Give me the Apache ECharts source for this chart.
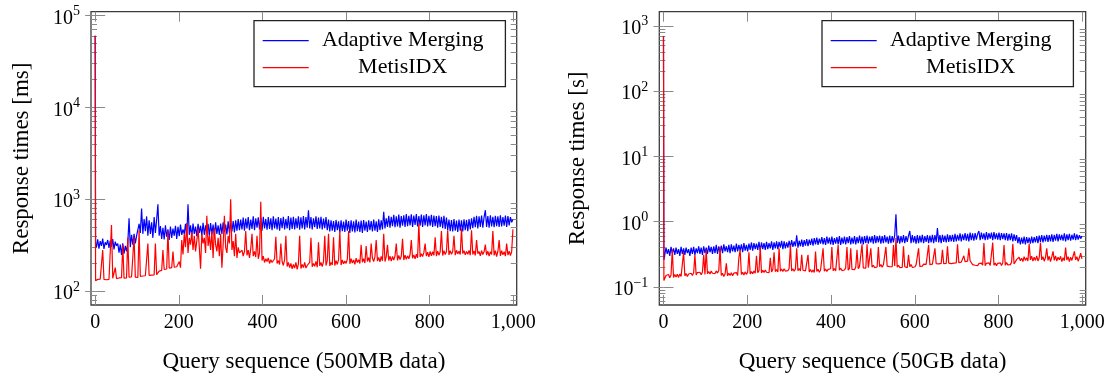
<!DOCTYPE html>
<html><head><meta charset="utf-8">
<script src="https://cdn.jsdelivr.net/npm/echarts@6/dist/echarts.min.js"></script>
<style>html,body{margin:0;padding:0;background:#fff}#c{width:1110px;height:378px}</style>
</head><body><div id="c"></div>
<script>
// Query sequence numbers (x positions): queries 0, 1, 3, 6, ..., 999
const queryIds = [0, 1];
for (let q = 3; q <= 999; q += 3) queryIds.push(q);

const seriesNames = ['Adaptive Merging', 'MetisIDX'];
const xTickValues = [0, 200, 400, 600, 800, 1000];

// Left panel: 500MB data, response times in ms
const am500 = [60000, 330,
  300, 365, 290, 350, 310, 372, 288, 340, 318, 360,
  295, 355, 305, 368, 285, 345, 312, 330, 262, 320,
  248, 332, 255, 310, 270, 335, 620, 300, 410, 320,
  420, 330, 400, 390, 540, 430, 790, 420, 610, 450,
  650, 400, 590, 420, 560, 380, 640, 430, 600, 880,
  400, 510, 370, 490, 365, 520, 390, 470, 360, 505,
  380, 480, 400, 515, 370, 500, 395, 530, 410, 470,
  420, 540, 395, 880, 410, 520, 390, 545, 420, 505,
  395, 540, 430, 515, 400, 555, 410, 520, 425, 540,
  400, 550, 415, 530, 395, 560, 420, 520, 410, 545,
  420, 560, 440, 530, 415, 575, 430, 550, 445, 580,
  435, 590, 455, 610, 460, 600, 470, 630, 455, 615,
  480, 640, 460, 600, 475, 650, 460, 620, 490, 635,
  470, 625, 455, 645, 480, 610, 465, 640, 475, 620,
  460, 650, 480, 615, 470, 640, 455, 625, 485, 645,
  470, 610, 480, 655, 460, 630, 475, 645, 470, 620,
  485, 650, 465, 635, 480, 655, 470, 640, 490, 760,
  480, 640, 470, 620, 495, 650, 475, 630, 480, 645,
  470, 615, 485, 640, 460, 600, 445, 590, 455, 580,
  440, 595, 460, 575, 435, 590, 450, 570, 440, 600,
  455, 580, 430, 590, 445, 575, 435, 600, 450, 570,
  440, 585, 430, 595, 455, 570, 440, 590, 460, 580,
  445, 600, 455, 575, 440, 605, 460, 590, 470, 730,
  480, 620, 500, 660, 490, 645, 510, 675, 495, 650,
  505, 680, 490, 655, 515, 670, 500, 690, 510, 660,
  520, 685, 500, 665, 525, 690, 505, 655, 515, 680,
  500, 670, 520, 690, 505, 660, 515, 675, 500, 665,
  510, 655, 490, 665, 500, 645, 485, 660, 475, 630,
  460, 600, 450, 595, 445, 610, 455, 585, 440, 600,
  455, 590, 445, 605, 460, 595, 450, 610, 470, 620,
  485, 645, 495, 660, 480, 650, 500, 665, 490, 640,
  760, 500, 655, 490, 670, 505, 645, 495, 660, 510,
  650, 500, 670, 505, 640, 515, 665, 500, 655, 520,
  640, 560, 600];
const metis500 = [60000, 130,
  131, 134, 132, 135, 133, 280, 134, 136, 133, 137,
  134, 136, 525, 138, 135, 180, 137, 135, 139, 136,
  140, 318, 138, 141, 139, 380, 142, 140, 143, 141,
  390, 142, 144, 141, 460, 145, 143, 146, 144, 147,
  145, 330, 148, 146, 149, 147, 150, 330, 151, 149,
  165, 170, 168, 280, 172, 176, 174, 450, 178, 175,
  180, 270, 182, 178, 184, 181, 210, 180, 360, 250,
  420, 300, 550, 260, 380, 320, 440, 280, 400, 270,
  350, 480, 300, 175, 420, 330, 380, 260, 660, 310,
  400, 280, 450, 230, 490, 320, 270, 380, 240, 420,
  180, 320, 660, 300, 260, 400, 330, 1000, 280, 350,
  240, 420, 230, 300, 260, 250, 280, 240, 270, 450,
  245, 280, 230, 290, 420, 240, 270, 235, 400, 225,
  260, 940, 215, 240, 205, 225, 210, 230, 200, 220,
  205, 195, 225, 390, 200, 215, 195, 330, 210, 190,
  220, 400, 185, 205, 180, 200, 175, 195, 178, 205,
  172, 198, 400, 176, 195, 180, 205, 178, 190, 182,
  206, 380, 184, 200, 186, 210, 182, 340, 188, 205,
  185, 210, 400, 190, 215, 420, 188, 205, 192, 385,
  190, 215, 195, 220, 450, 192, 218, 198, 212, 200,
  222, 450, 198, 225, 202, 218, 196, 228, 205, 220,
  200, 320, 206, 225, 202, 310, 210, 232, 205, 330,
  228, 210, 236, 360, 212, 232, 208, 238, 214, 420,
  210, 236, 320, 215, 240, 212, 238, 218, 242, 330,
  216, 244, 220, 240, 370, 218, 246, 222, 242, 225,
  250, 360, 228, 248, 224, 252, 230, 550, 235, 255,
  238, 262, 330, 240, 265, 236, 270, 242, 268, 245,
  385, 240, 272, 246, 268, 450, 244, 275, 250, 270,
  460, 248, 276, 252, 270, 400, 246, 278, 254, 272,
  250, 480, 256, 275, 248, 270, 252, 278, 246, 460,
  250, 274, 245, 360, 256, 270, 242, 276, 250, 268,
  320, 246, 272, 240, 268, 250, 450, 245, 275, 238,
  270, 360, 242, 276, 248, 268, 240, 330, 246, 272,
  244, 270, 470];

// Right panel: 50GB data, response times in s
const am50 = [700, 0.26,
  0.31, 0.40, 0.32, 0.38, 0.30, 0.41, 0.33, 0.39, 0.31, 0.40,
  0.32, 0.38, 0.30, 0.41, 0.32, 0.39, 0.31, 0.40, 0.33, 0.38,
  0.30, 0.40, 0.32, 0.41, 0.31, 0.39, 0.33, 0.42, 0.32, 0.40,
  0.31, 0.42, 0.33, 0.40, 0.32, 0.43, 0.34, 0.41, 0.32, 0.42,
  0.33, 0.44, 0.32, 0.42, 0.34, 0.43, 0.33, 0.45, 0.35, 0.42,
  0.34, 0.44, 0.33, 0.45, 0.35, 0.43, 0.34, 0.46, 0.35, 0.44,
  0.36, 0.45, 0.34, 0.47, 0.36, 0.44, 0.35, 0.46, 0.37, 0.48,
  0.36, 0.47, 0.38, 0.46, 0.37, 0.49, 0.36, 0.48, 0.38, 0.47,
  0.37, 0.49, 0.38, 0.47, 0.39, 0.50, 0.37, 0.48, 0.39, 0.50,
  0.38, 0.49, 0.40, 0.51, 0.38, 0.50, 0.39, 0.48, 0.40, 0.51,
  0.40, 0.52, 0.41, 0.50, 0.42, 0.62, 0.40, 0.51, 0.42, 0.53,
  0.41, 0.52, 0.43, 0.54, 0.42, 0.53, 0.44, 0.55, 0.43, 0.56,
  0.45, 0.57, 0.44, 0.55, 0.46, 0.58, 0.45, 0.56, 0.44, 0.59,
  0.46, 0.57, 0.45, 0.59, 0.44, 0.56, 0.46, 0.58, 0.45, 0.60,
  0.44, 0.57, 0.46, 0.59, 0.45, 0.58, 0.47, 0.60, 0.45, 0.57,
  0.46, 0.60, 0.45, 0.58, 0.47, 0.61, 0.46, 0.59, 0.45, 0.60,
  0.47, 0.61, 0.46, 0.59, 0.48, 0.60, 0.46, 0.62, 0.47, 0.60,
  0.48, 0.61, 0.46, 0.60, 0.47, 0.62, 0.48, 0.59, 0.46, 0.61,
  0.47, 0.60, 0.48, 0.62, 1.30, 0.47, 0.61, 0.46, 0.60, 0.48,
  0.62, 0.47, 0.60, 0.49, 0.61, 0.72, 0.47, 0.62, 0.48, 0.60,
  0.46, 0.62, 0.47, 0.61, 0.48, 0.63, 0.47, 0.60, 0.49, 0.62,
  0.47, 0.61, 0.48, 0.63, 0.47, 0.62, 0.49, 0.80, 0.48, 0.62,
  0.47, 0.63, 0.49, 0.61, 0.48, 0.64, 0.49, 0.62, 0.50, 0.63,
  0.49, 0.65, 0.50, 0.63, 0.51, 0.66, 0.50, 0.64, 0.52, 0.67,
  0.51, 0.65, 0.50, 0.68, 0.52, 0.66, 0.51, 0.67, 0.53, 0.65,
  0.72, 0.52, 0.68, 0.54, 0.66, 0.52, 0.69, 0.53, 0.67, 0.55,
  0.68, 0.52, 0.69, 0.54, 0.66, 0.53, 0.68, 0.52, 0.67, 0.54,
  0.66, 0.52, 0.67, 0.51, 0.65, 0.52, 0.66, 0.50, 0.64, 0.51,
  0.62, 0.47, 0.58, 0.45, 0.57, 0.46, 0.59, 0.45, 0.58, 0.47,
  0.57, 0.46, 0.59, 0.47, 0.58, 0.48, 0.60, 0.47, 0.61, 0.49,
  0.62, 0.48, 0.61, 0.50, 0.63, 0.49, 0.62, 0.50, 0.64, 0.49,
  0.63, 0.51, 0.65, 0.50, 0.64, 0.52, 0.63, 0.51, 0.66, 0.50,
  0.64, 0.52, 0.65, 0.51, 0.63, 0.53, 0.66, 0.52, 0.64, 0.53,
  0.62, 0.55, 0.60];
const metis50 = [700, 0.125,
  0.135, 0.15, 0.14, 0.155, 0.138, 0.152, 0.37, 0.14, 0.155, 0.142,
  0.156, 0.14, 0.158, 0.145, 0.155, 0.34, 0.148, 0.16, 0.145, 0.158,
  0.148, 0.162, 0.15, 0.165, 0.31, 0.152, 0.166, 0.155, 0.168, 0.154,
  0.17, 0.31, 0.155, 0.37, 0.16, 0.172, 0.158, 0.175, 0.162, 0.17,
  0.16, 0.176, 0.163, 0.178, 0.41, 0.15, 0.162, 0.145, 0.158, 0.23,
  0.148, 0.162, 0.15, 0.165, 0.148, 0.163, 0.152, 0.166, 0.15, 0.28,
  0.37, 0.155, 0.168, 0.152, 0.17, 0.156, 0.168, 0.34, 0.158, 0.172,
  0.16, 0.175, 0.162, 0.30, 0.165, 0.178, 0.41, 0.163, 0.18, 0.166,
  0.182, 0.168, 0.178, 0.165, 0.28, 0.17, 0.184, 0.34, 0.172, 0.185,
  0.17, 0.39, 0.174, 0.188, 0.172, 0.19, 0.175, 0.186, 0.178, 0.192,
  0.44, 0.176, 0.19, 0.174, 0.188, 0.39, 0.178, 0.192, 0.175, 0.31,
  0.18, 0.192, 0.176, 0.186, 0.31, 0.17, 0.185, 0.168, 0.182, 0.166,
  0.35, 0.172, 0.186, 0.168, 0.182, 0.17, 0.39, 0.174, 0.188, 0.172,
  0.186, 0.175, 0.19, 0.41, 0.178, 0.192, 0.176, 0.188, 0.44, 0.18,
  0.194, 0.178, 0.19, 0.182, 0.196, 0.41, 0.18, 0.194, 0.39, 0.186,
  0.198, 0.184, 0.2, 0.37, 0.19, 0.205, 0.192, 0.45, 0.195, 0.208,
  0.194, 0.45, 0.198, 0.21, 0.39, 0.2, 0.215, 0.198, 0.212, 0.202,
  0.41, 0.205, 0.22, 0.2, 0.218, 0.204, 0.41, 0.208, 0.222, 0.205,
  0.218, 0.204, 0.44, 0.21, 0.56, 0.2, 0.215, 0.198, 0.212, 0.2,
  0.42, 0.204, 0.218, 0.198, 0.31, 0.205, 0.22, 0.2, 0.214, 0.202,
  0.218, 0.204, 0.39, 0.206, 0.22, 0.208, 0.224, 0.21, 0.222, 0.215,
  0.44, 0.22, 0.236, 0.224, 0.24, 0.39, 0.228, 0.242, 0.226, 0.238,
  0.23, 0.37, 0.228, 0.244, 0.23, 0.42, 0.232, 0.246, 0.228, 0.24,
  0.232, 0.248, 0.234, 0.45, 0.236, 0.25, 0.24, 0.256, 0.30, 0.245,
  0.26, 0.248, 0.39, 0.252, 0.236, 0.22, 0.232, 0.215, 0.23, 0.212,
  0.228, 0.214, 0.232, 0.216, 0.47, 0.212, 0.23, 0.218, 0.234, 0.214,
  0.228, 0.48, 0.216, 0.232, 0.212, 0.23, 0.218, 0.234, 0.214, 0.232,
  0.44, 0.216, 0.236, 0.218, 0.232, 0.22, 0.238, 0.46, 0.225, 0.24,
  0.262, 0.248, 0.285, 0.252, 0.275, 0.245, 0.29, 0.255, 0.28, 0.25,
  0.46, 0.26, 0.295, 0.248, 0.285, 0.255, 0.3, 0.25, 0.28, 0.48,
  0.26, 0.29, 0.248, 0.282, 0.39, 0.255, 0.295, 0.245, 0.288, 0.35,
  0.255, 0.3, 0.248, 0.285, 0.26, 0.295, 0.245, 0.28, 0.252, 0.40,
  0.258, 0.29, 0.245, 0.285, 0.255, 0.298, 0.35, 0.26, 0.29, 0.248,
  0.282, 0.33, 0.27];

const yMajorLeft = [100, 1000, 10000, 100000];
const yMajorRight = [0.1, 1, 10, 100, 1000];

const FONT = 'Liberation Serif';
const TICK_COLOR = '#8a8a8a';

function minorsFor(majors) {
  const out = [];
  majors.concat([majors[0] / 10]).forEach(m => {
    for (let k = 2; k <= 9; k++) out.push(+(m * k).toPrecision(3));
  });
  return out;
}
function supLabel(v) {
  const e = Math.round(Math.log10(v));
  return '{b|10}{s|' + (e < 0 ? '\u2212' + (-e) : e) + '}';
}
function yAxes(grid, min, max, majors, title, gap) {
  const base = {type: 'log', gridIndex: grid, min: min, max: max, logBase: 10,
    splitLine: {show: false}, axisLine: {show: false}, axisLabel: {show: false}};
  const minors = minorsFor(majors);
  return [
    Object.assign({}, base, {position: 'left', name: title, nameLocation: 'middle', nameGap: gap,
      nameTextStyle: {fontFamily: FONT, fontSize: 23, color: '#000'},
      axisTick: {show: true, inside: true, length: 10, customValues: majors, lineStyle: {color: TICK_COLOR, width: 1}},
      axisLabel: {show: true, customValues: majors, margin: 11, formatter: supLabel, color: '#000',
        padding: [6, 0, 0, 0],
        rich: {b: {fontFamily: FONT, fontSize: 20, color: '#000'},
               s: {fontFamily: FONT, fontSize: 14, color: '#000', padding: [0, 0, 14, 0]}}}}),
    Object.assign({}, base, {position: 'right',
      axisTick: {show: true, inside: true, length: 10, customValues: majors, lineStyle: {color: TICK_COLOR, width: 1}}}),
    Object.assign({}, base, {position: 'left',
      axisTick: {show: true, inside: true, length: 6, customValues: minors, lineStyle: {color: TICK_COLOR, width: 1}}}),
    Object.assign({}, base, {position: 'right',
      axisTick: {show: true, inside: true, length: 6, customValues: minors, lineStyle: {color: TICK_COLOR, width: 1}}})
  ];
}
function xAxes(grid, title) {
  const base = {type: 'value', gridIndex: grid, min: -10, max: 1008,
    splitLine: {show: false}, axisLine: {show: false},
    axisTick: {show: true, inside: true, length: 10, customValues: xTickValues, lineStyle: {color: TICK_COLOR, width: 1}}};
  return [
    Object.assign({}, base, {position: 'bottom', name: title, nameLocation: 'middle', nameGap: 45,
      nameTextStyle: {fontFamily: FONT, fontSize: 23, color: '#000'},
      axisLabel: {show: true, customValues: xTickValues, margin: 8, fontFamily: FONT, fontSize: 20, color: '#000',
        formatter: v => v >= 1000 ? v.toLocaleString('en-US') : String(v)}}),
    Object.assign({}, base, {position: 'top', axisLabel: {show: false}})
  ];
}
function pairs(vals) { return queryIds.map((q, i) => [q, vals[i]]); }
function lineSeries(name, vals, color, xi, yi) {
  return {type: 'line', name: name, data: pairs(vals), xAxisIndex: xi, yAxisIndex: yi,
    showSymbol: false, symbol: 'none', sampling: 'none', animation: false,
    lineStyle: {color: color, width: 1.2}, itemStyle: {color: color}, emphasis: {disabled: true}};
}
function legendAt(left) {
  return {left: left, top: 20.7, orient: 'vertical', data: seriesNames,
    padding: [9, 13.7, 8, 8.7], itemGap: 5, itemWidth: 46, itemHeight: 1.2, icon: 'rect',
    borderColor: '#222', borderWidth: 1.3, backgroundColor: '#fff',
    formatter: '{t|{name}}',
    textStyle: {color: '#000', rich: {t: {width: 178, align: 'center', fontFamily: FONT, fontSize: 22, lineHeight: 24, color: '#000'}}}};
}

const chart = echarts.init(document.getElementById('c'), null, {renderer: 'canvas'});
chart.setOption({
  animation: false,
  backgroundColor: '#fff',
  grid: [
    {left: 91, top: 11.7, width: 425.7, height: 295.6, show: true, borderColor: '#3c3c3c', borderWidth: 1.3, backgroundColor: 'transparent'},
    {left: 659.3, top: 11.7, width: 426.4, height: 295.6, show: true, borderColor: '#3c3c3c', borderWidth: 1.3, backgroundColor: 'transparent'}
  ],
  xAxis: xAxes(0, 'Query sequence (500MB data)').concat(xAxes(1, 'Query sequence (50GB data)')),
  yAxis: yAxes(0, 70.6, 109900, yMajorLeft, 'Response times [ms]', 58)
    .concat(yAxes(1, 0.0529, 1644, yMajorRight, 'Response times [s]', 70)),
  legend: [legendAt(254), legendAt(822)],
  series: [
    lineSeries(seriesNames[0], am500, '#0000ff', 0, 0),
    lineSeries(seriesNames[1], metis500, '#ff0000', 0, 0),
    lineSeries(seriesNames[0], am50, '#0000ff', 2, 4),
    lineSeries(seriesNames[1], metis50, '#ff0000', 2, 4)
  ]
});
</script></body></html>
